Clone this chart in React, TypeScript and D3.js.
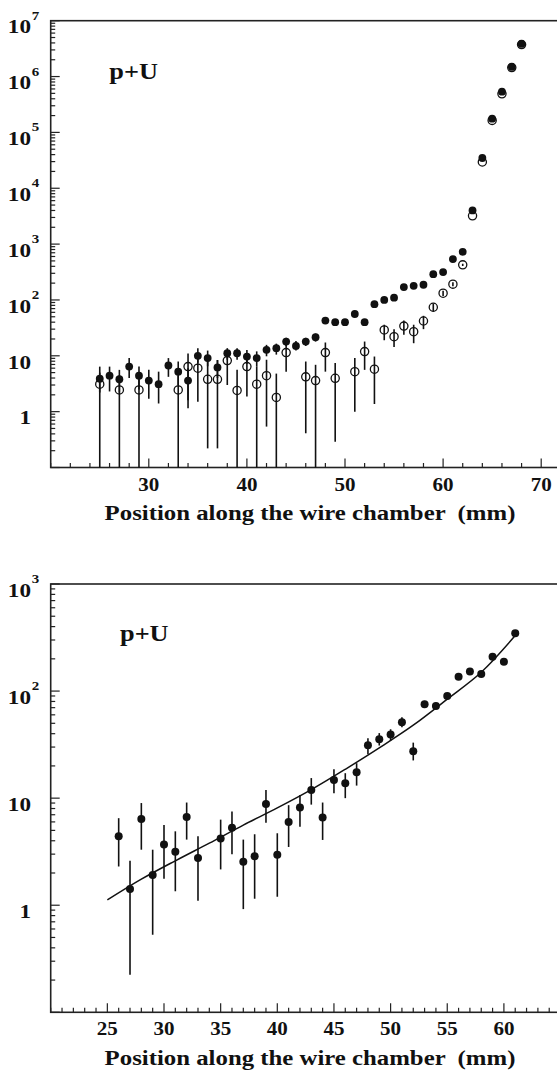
import * as d3 from "d3";

// top panel: filled circles, one point per mm
const topX = [25, 26, 27, 28, 29, 30, 31, 32, 33, 34, 35, 36, 37, 38, 39, 40, 41, 42, 43, 44, 45, 46,
  47, 48, 49, 50, 51, 52, 53, 54, 55, 56, 57, 58, 59, 60, 61, 62, 63, 64, 65, 66, 67, 68];
const topFilled = [3.9, 4.4, 3.8, 6.4, 4.4, 3.6, 3.1, 6.7, 5.2, 3.6, 10, 9.1, 6.2, 11.1, 11.1, 9.7, 9.1, 12.8,
  13.7, 18, 15, 18, 21.5, 42.7, 40, 40, 56, 40, 84, 100, 110, 170, 179, 187, 290, 315, 540, 728,
  4000, 34800, 176000, 536000, 1490000, 3840000];
const topFilledLo = [2.2, 2.3, 2.2, 4.0, 2.5, 1.7, 1.4, 4.2, 3.0, 1.6, 7.5, 6.5, 4.0, 8.5, 8.5, 7.2, 6.5, 9.8,
  10.5, 15, 12.5, 15, 18, 38, 36, 36, 51, 36, 78, 93, 103, 160, 168, 176, 275, 300, 520, 705,
  4000, 34800, 176000, 536000, 1490000, 3840000];
const topFilledHi = [6.4, 6.4, 5.6, 9.1, 6.4, 5.6, 5.2, 9.1, 7.9, 6.0, 13.7, 12.4, 8.4, 13.7, 13.7, 12.7, 12.0, 15.7,
  16.5, 21, 18.5, 21, 25, 47, 44, 44, 61, 44, 90, 107, 117, 180, 190, 198, 305, 330, 560, 750,
  4000, 34800, 176000, 536000, 1490000, 3840000];

// top panel: open circles
const topOpenX = [25, 27, 29, 33, 34, 35, 36, 37, 38, 39, 40, 41, 42, 43, 44, 46, 47, 48, 49, 51, 52, 53,
  54, 55, 56, 57, 58, 59, 60, 61, 62, 63, 64, 65, 66, 67, 68];
const topOpen = [3.1, 2.45, 2.45, 2.45, 6.4, 6.0, 3.8, 3.8, 8.2, 2.4, 6.4, 3.1, 4.4, 1.8, 11.4, 4.2, 3.6, 11.4,
  3.96, 5.2, 11.9, 5.75, 29, 22, 34, 27, 42, 74, 132, 192, 425, 3215, 29500, 164000, 490000, 1450000, 3740000];
const topOpenLo = [0.01, 0.01, 0.01, 0.01, 1.15, 1.5, 0.22, 0.22, 3.0, 0.01, 1.86, 0.01, 0.54, 0.01, 5.2, 0.41,
  0.01, 5.2, 0.29, 1.0, 5.6, 1.37, 19, 14.3, 23.7, 16.8, 30, 62, 118, 176, 405, 3215, 29500, 164000, 490000,
  1450000, 3740000];
const topOpenHi = [5.0, 4.5, 4.5, 4.5, 11, 10, 8, 8.4, 12, 5.6, 10, 6.5, 8.5, 4.8, 18, 7.9, 6.9, 17.3, 7.4,
  9.1, 18, 9.7, 36, 30, 43, 36, 52, 86, 146, 208, 445, 3215, 29500, 164000, 490000, 1450000, 3740000];

// bottom panel
const botX = [26, 27, 28, 29, 30, 31, 32, 33, 35, 36, 37, 38, 39, 40, 41, 42, 43, 44, 45, 46, 47, 48, 49,
  50, 51, 52, 53, 54, 55, 56, 57, 58, 59, 60, 61];
const botY = [4.4, 1.42, 6.4, 1.92, 3.7, 3.16, 6.65, 2.76, 4.2, 5.3, 2.55, 2.86, 8.8, 2.96, 6.0, 8.2, 11.9,
  6.6, 14.8, 13.8, 17.5, 31.2, 35.5, 39.2, 51.2, 27.4, 75.3, 72.6, 90, 136, 152, 144, 209, 188, 346];
const botLo = [2.3, 0.224, 3.3, 0.53, 1.77, 1.35, 4.1, 1.1, 2.16, 3.0, 0.92, 1.15, 5.9, 1.2, 3.5, 5.4, 8.7,
  4.07, 11.1, 10.0, 13.1, 25.7, 31, 34.5, 46, 22.5, 70, 67.5, 84, 129, 145, 137, 200, 180, 335];
const botHi = [6.5, 2.6, 9.0, 3.3, 5.6, 4.9, 9.1, 4.4, 6.3, 7.5, 4.1, 4.6, 11.9, 4.7, 8.6, 10.7, 15.4,
  9.1, 18.6, 17.1, 21.2, 36.3, 40.5, 44, 57, 33, 81, 78, 96, 143, 159, 151, 218, 196, 357];

// fitted curve
const fitX = [25, 28, 31, 34, 37, 40, 43, 46, 49, 52, 55, 58, 61];
const fitY = [1.12, 1.75, 2.6, 3.8, 5.6, 8.1, 12.0, 18.6, 29.5, 48, 84, 150, 330];

const topXTicks = [30, 40, 50, 60, 70];
const botXTicks = [25, 30, 35, 40, 45, 50, 55, 60];
const topDecades = [1, 10, 100, 1000, 10000, 100000, 1000000, 10000000];
const botDecades = [1, 10, 100, 1000];

const FONT = "'Liberation Serif', 'Times New Roman', serif";
const INK = "#111";

type PanelProps = {
  x: d3.ScaleLinear<number, number>;
  y: d3.ScaleLogarithmic<number, number>;
  minorStep: number;
  xTicks: number[];
  decades: number[];
};

function Frame({ x, y, minorStep, xTicks, decades }: PanelProps) {
  const [x0, x1] = x.range();
  const [y0, y1] = y.range();
  const [d0, d1] = x.domain();
  const minors = d3.range(d0, d1 + 0.001, minorStep);
  const yTicks = y.ticks();
  const isDecade = (v: number) => Math.abs(Math.log10(v) - Math.round(Math.log10(v))) < 1e-6;
  return (
    <g>
      <rect x={x0} y={y1} width={x1 - x0} height={y0 - y1} fill="none" stroke="#222" strokeWidth={1.6} />
      {minors.map((m) => {
        const len = xTicks.includes(m) ? 9 : 4.5;
        return <line key={"xm" + m} x1={x(m)} x2={x(m)} y1={y0} y2={y0 - len} stroke="#222" strokeWidth={1.2} />;
      })}
      {yTicks.map((v, i) => {
        const len = isDecade(v) ? 9 : 4.5;
        return <line key={"yt" + i} x1={x0} x2={x0 + len} y1={y(v)} y2={y(v)} stroke="#222" strokeWidth={1.2} />;
      })}
      {xTicks.map((t) => (
        <text key={"xl" + t} transform={`translate(${x(t)},${y0 + 23}) scale(1.17,1)`} textAnchor="middle"
          fontSize={18} fontWeight="bold" fontFamily={FONT} fill={INK}>{t}</text>
      ))}
      {decades.map((v) => {
        const e = Math.round(Math.log10(v));
        const yy = y(v);
        return (
          <g key={"yl" + v}>
            <text transform={`translate(31,${yy + 12.7}) scale(1.22,1)`} textAnchor="end" fontSize={19}
              fontWeight="bold" fontFamily={FONT} fill={INK}>{e === 0 ? "1" : "10"}</text>
            {e > 1 && (
              <text transform={`translate(31.7,${yy - 1}) scale(1.2,1)`} fontSize={12.5} fontWeight="bold"
                fontFamily={FONT} fill={INK}>{e}</text>
            )}
          </g>
        );
      })}
      <text transform={`translate(310,${y0 + 52.7}) scale(1.24,1)`} textAnchor="middle" fontSize={20}
        fontWeight="bold" fontFamily={FONT} fill={INK} style={{ whiteSpace: "pre" }}>
        {"Position along the wire chamber  (mm)"}
      </text>
    </g>
  );
}

function Bar({ x, y1, y2 }: { x: number; y1: number; y2: number }) {
  return <line x1={x} x2={x} y1={y1} y2={y2} stroke={INK} strokeWidth={1.6} />;
}

export default function App() {
  const xTop = d3.scaleLinear().domain([20, 72]).range([50.7, 50.7 + 52 * 9.81]);
  const yTop = d3.scaleLog().domain([0.1, 1e7]).range([467.5, 20.7]).clamp(true);
  const xBot = d3.scaleLinear().domain([20, 65]).range([50.7, 50.7 + 45 * 11.33]);
  const yBot = d3.scaleLog().domain([0.1, 1000]).range([1012.3, 584]).clamp(true);

  const fitLine = d3.line<number>()
    .x((_, i) => xBot(fitX[i]))
    .y((d) => yBot(d))
    .curve(d3.curveCatmullRom.alpha(0.5));

  return (
    <svg width={557} height={1074} style={{ position: "absolute", left: 0, top: 0, background: "#fff" }}>
      <Frame x={xTop} y={yTop} minorStep={2} xTicks={topXTicks} decades={topDecades} />
      <text transform="translate(109.3,78.5) scale(1.17,1)" fontSize={22.5} fontWeight="bold" fontFamily={FONT}
        fill={INK}>p+U</text>
      {topOpenX.map((m, i) => (
        <Bar key={"ob" + m} x={xTop(m)} y1={yTop(topOpenLo[i])} y2={yTop(topOpenHi[i])} />
      ))}
      {topX.map((m, i) => (
        <Bar key={"fb" + m} x={xTop(m)} y1={yTop(topFilledLo[i])} y2={yTop(topFilledHi[i])} />
      ))}
      {topOpenX.map((m, i) => (
        <circle key={"oc" + m} cx={xTop(m)} cy={yTop(topOpen[i])} r={4.1} fill="none" stroke={INK} strokeWidth={1.3} />
      ))}
      {topX.map((m, i) => (
        <circle key={"fc" + m} cx={xTop(m)} cy={yTop(topFilled[i])} r={3.9} fill={INK} />
      ))}

      <Frame x={xBot} y={yBot} minorStep={1} xTicks={botXTicks} decades={botDecades} />
      <text transform="translate(120,641) scale(1.17,1)" fontSize={22.5} fontWeight="bold" fontFamily={FONT}
        fill={INK}>p+U</text>
      <path d={fitLine(fitY) ?? ""} fill="none" stroke={INK} strokeWidth={1.5} />
      {botX.map((m, i) => (
        <Bar key={"bb" + m} x={xBot(m)} y1={yBot(botLo[i])} y2={yBot(botHi[i])} />
      ))}
      {botX.map((m, i) => (
        <circle key={"bc" + m} cx={xBot(m)} cy={yBot(botY[i])} r={4} fill={INK} />
      ))}
    </svg>
  );
}
